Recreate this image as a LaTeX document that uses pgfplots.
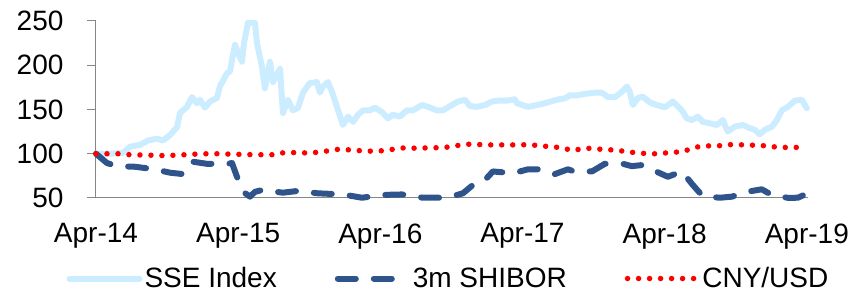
\documentclass[border=0pt]{standalone}
\usepackage{fontspec}
\setmainfont{Liberation Sans}
\usepackage{pgfplots}
\pgfplotsset{compat=1.18}
\definecolor{sse}{RGB}{204,236,255}
\definecolor{shibor}{RGB}{47,84,140}
\definecolor{cny}{RGB}{255,0,0}
\definecolor{axgray}{RGB}{134,134,134}
\begin{document}
\begin{tikzpicture}
\path[use as bounding box] (0,0) rectangle (868pt,294pt);
\begin{axis}[
  at={(96pt,96pt)}, anchor=south west,
  scale only axis, width=712pt, height=177pt,
  xmin=0, xmax=60.1, ymin=50, ymax=250,
  axis x line*=bottom, axis y line*=left,
  axis line style={axgray, line width=1pt, -},
  xtick={0,12,24,36,48,60},
  xticklabels={Apr-14,Apr-15,Apr-16,Apr-17,Apr-18,Apr-19},
  ytick={50,100,150,200,250},
  tick align=outside,
  major tick length=9pt,
  ytick style={axgray, line width=1pt},
  xtick style={draw=none},
  ticklabel style={font=\fontsize{28}{34}\selectfont, text=black},
  /pgf/number format/assume math mode=true,
  yticklabel style={xshift=-20pt},
  xticklabel style={yshift=-13pt},
  legend columns=3,
  legend style={draw=none, fill=none, font=\fontsize{28}{34}\selectfont,
    nodes={inner ysep=1pt},
    at={(0.495,-0.455)}, anchor=center,
    /tikz/every even column/.append style={column sep=56pt}},
  legend image code/.code={\draw[#1] (0pt,0pt) -- (70pt,0pt);},
  clip=false,
]
\addplot[sse, line width=6pt, line join=round, line cap=round] coordinates {
(0,100)(1.18,100)(2.28,101)(2.87,108)(3.71,110)(4.39,115)(5.15,117)(5.65,115)
(6.24,121)(6.84,130)(7.09,146)(7.68,153)(8.10,164)(8.52,157)(8.78,161)(9.20,152)
(9.62,159)(10.21,163)(10.46,176)(11.05,191)(11.31,193)(11.48,206)(11.73,223)
(11.98,214)(12.32,204)(12.49,225)(12.83,248)(13.42,248)(13.59,225)(14.01,198)
(14.26,174)(14.68,204)(14.94,181)(15.27,189)(15.53,196)(15.78,146)(16.20,161)
(16.62,149)(17.05,152)(17.47,169)(18.06,180)(18.65,181)(18.90,169)(19.16,176)
(19.58,181)(19.92,170)(20.34,153)(20.84,132.5)(21.27,142)(21.69,136)(22.11,144)
(22.53,149)(23.12,149)(23.54,152)(24.14,147)(24.64,140)(25.06,144)(25.65,142)
(26.24,149)(26.75,149)(27.51,155)(28.02,153)(28.78,149)(29.28,149)(30.04,155)
(30.55,159)(31.14,161)(31.56,154)(32.15,153)(32.83,155)(33.42,159)(33.92,160)
(34.68,160)(35.36,161.5)(35.53,157)(36.46,153)(37.22,155)(38.06,157.7)(38.90,161)
(39.58,162.6)(40.00,166)(40.59,166)(41.43,168)(42.11,169)(42.70,169)(43.21,164)
(43.80,164)(44.39,170)(44.81,176)(45.06,170)(45.32,155)(45.74,163)(46.16,164.5)
(46.75,158)(47.34,155)(48.02,152.5)(48.69,159)(49.45,149)(49.87,140)(50.30,138)
(50.80,142)(51.22,136)(51.81,134.4)(52.41,132.5)(52.91,138)(53.33,125)(53.92,130.6)
(54.60,132.5)(55.19,129)(55.61,127)(56.03,122)(56.46,127)(57.05,130.6)(57.47,138)
(57.89,149)(58.40,153)(58.99,160)(59.58,161)(60.00,151.5)
};
\addlegendentry{SSE Index}
\addplot[shibor, line width=6pt, line cap=round, line join=round, dash pattern=on 18pt off 18pt] coordinates {
(0,100)(0.93,89.5)(1.77,86)(3.29,85.3)(4.98,82.4)(6.24,78.6)(7.34,77)(8.19,91)
(9.37,88.6)(11.14,88.6)(11.48,89.5)(11.90,74)(12.57,55.6)(13.00,51.5)(13.42,57)
(14.01,59)(15.78,56)(17.05,58)(18.73,55.3)(20.84,54)(22.45,50.3)(23.12,51.5)
(23.97,53.4)(25.82,54)(27.59,50.3)(29.62,50.3)(30.97,55.3)(32.15,68.4)(32.83,70.3)
(33.50,80)(35.19,78)(35.78,80)(36.46,82.4)(37.72,82.4)(38.73,77)(39.83,82.4)
(40.25,80.5)(41.86,80)(42.95,88.6)(44.47,88.6)(45.23,86)(46.16,87.3)(47.00,81.6)
(48.27,74)(49.45,80)(50.38,64.7)(51.22,52)(52.66,50.3)(53.67,51.5)(54.94,57)
(56.20,59.8)(57.05,53.4)(58.40,50.2)(59.24,50.3)(60.08,55.3)
};
\addlegendentry{3m SHIBOR}
\addplot[cny, line width=5.5pt, line cap=round, dash pattern=on 0pt off 11pt] coordinates {
(0,100)(0.93,100)(1.94,100)(2.87,98.9)(3.80,98.6)(4.73,98.3)(5.74,97.9)(6.58,98.3)
(7.51,98.9)(8.44,99.6)(9.37,100)(10.30,100)(11.22,99.6)(12.15,99.3)(13.16,99)
(14.09,98.9)(15.11,98.9)(15.95,101.6)(16.88,101.2)(17.81,100.9)(18.65,101.6)
(19.66,103.4)(20.59,105.3)(21.52,104.2)(22.36,103.4)(23.29,102.9)(24.14,103.4)
(25.06,105)(26.08,106.8)(27.17,106.1)(28.10,106.8)(29.11,106.8)(30.04,108)
(30.89,110.3)(31.81,111)(32.74,110)(33.76,110)(34.68,110)(35.61,110)(36.62,110.3)
(37.55,108.8)(38.48,108)(39.41,106.5)(40.25,103.4)(41.10,106.1)(41.94,106.1)
(42.87,104.6)(43.88,104.3)(44.73,102.3)(45.57,101.2)(46.84,99.7)(47.76,100.5)
(48.69,101.6)(49.54,102.3)(50.38,106.5)(51.22,109)(51.98,108.8)(52.57,109)
(53.42,110.3)(54.26,110.3)(55.11,109.5)(55.95,110)(56.79,108)(57.72,107.6)
(58.57,106.8)(59.16,107.2)
};
\addlegendentry{CNY/USD}
\end{axis}
\end{tikzpicture}
\end{document}
